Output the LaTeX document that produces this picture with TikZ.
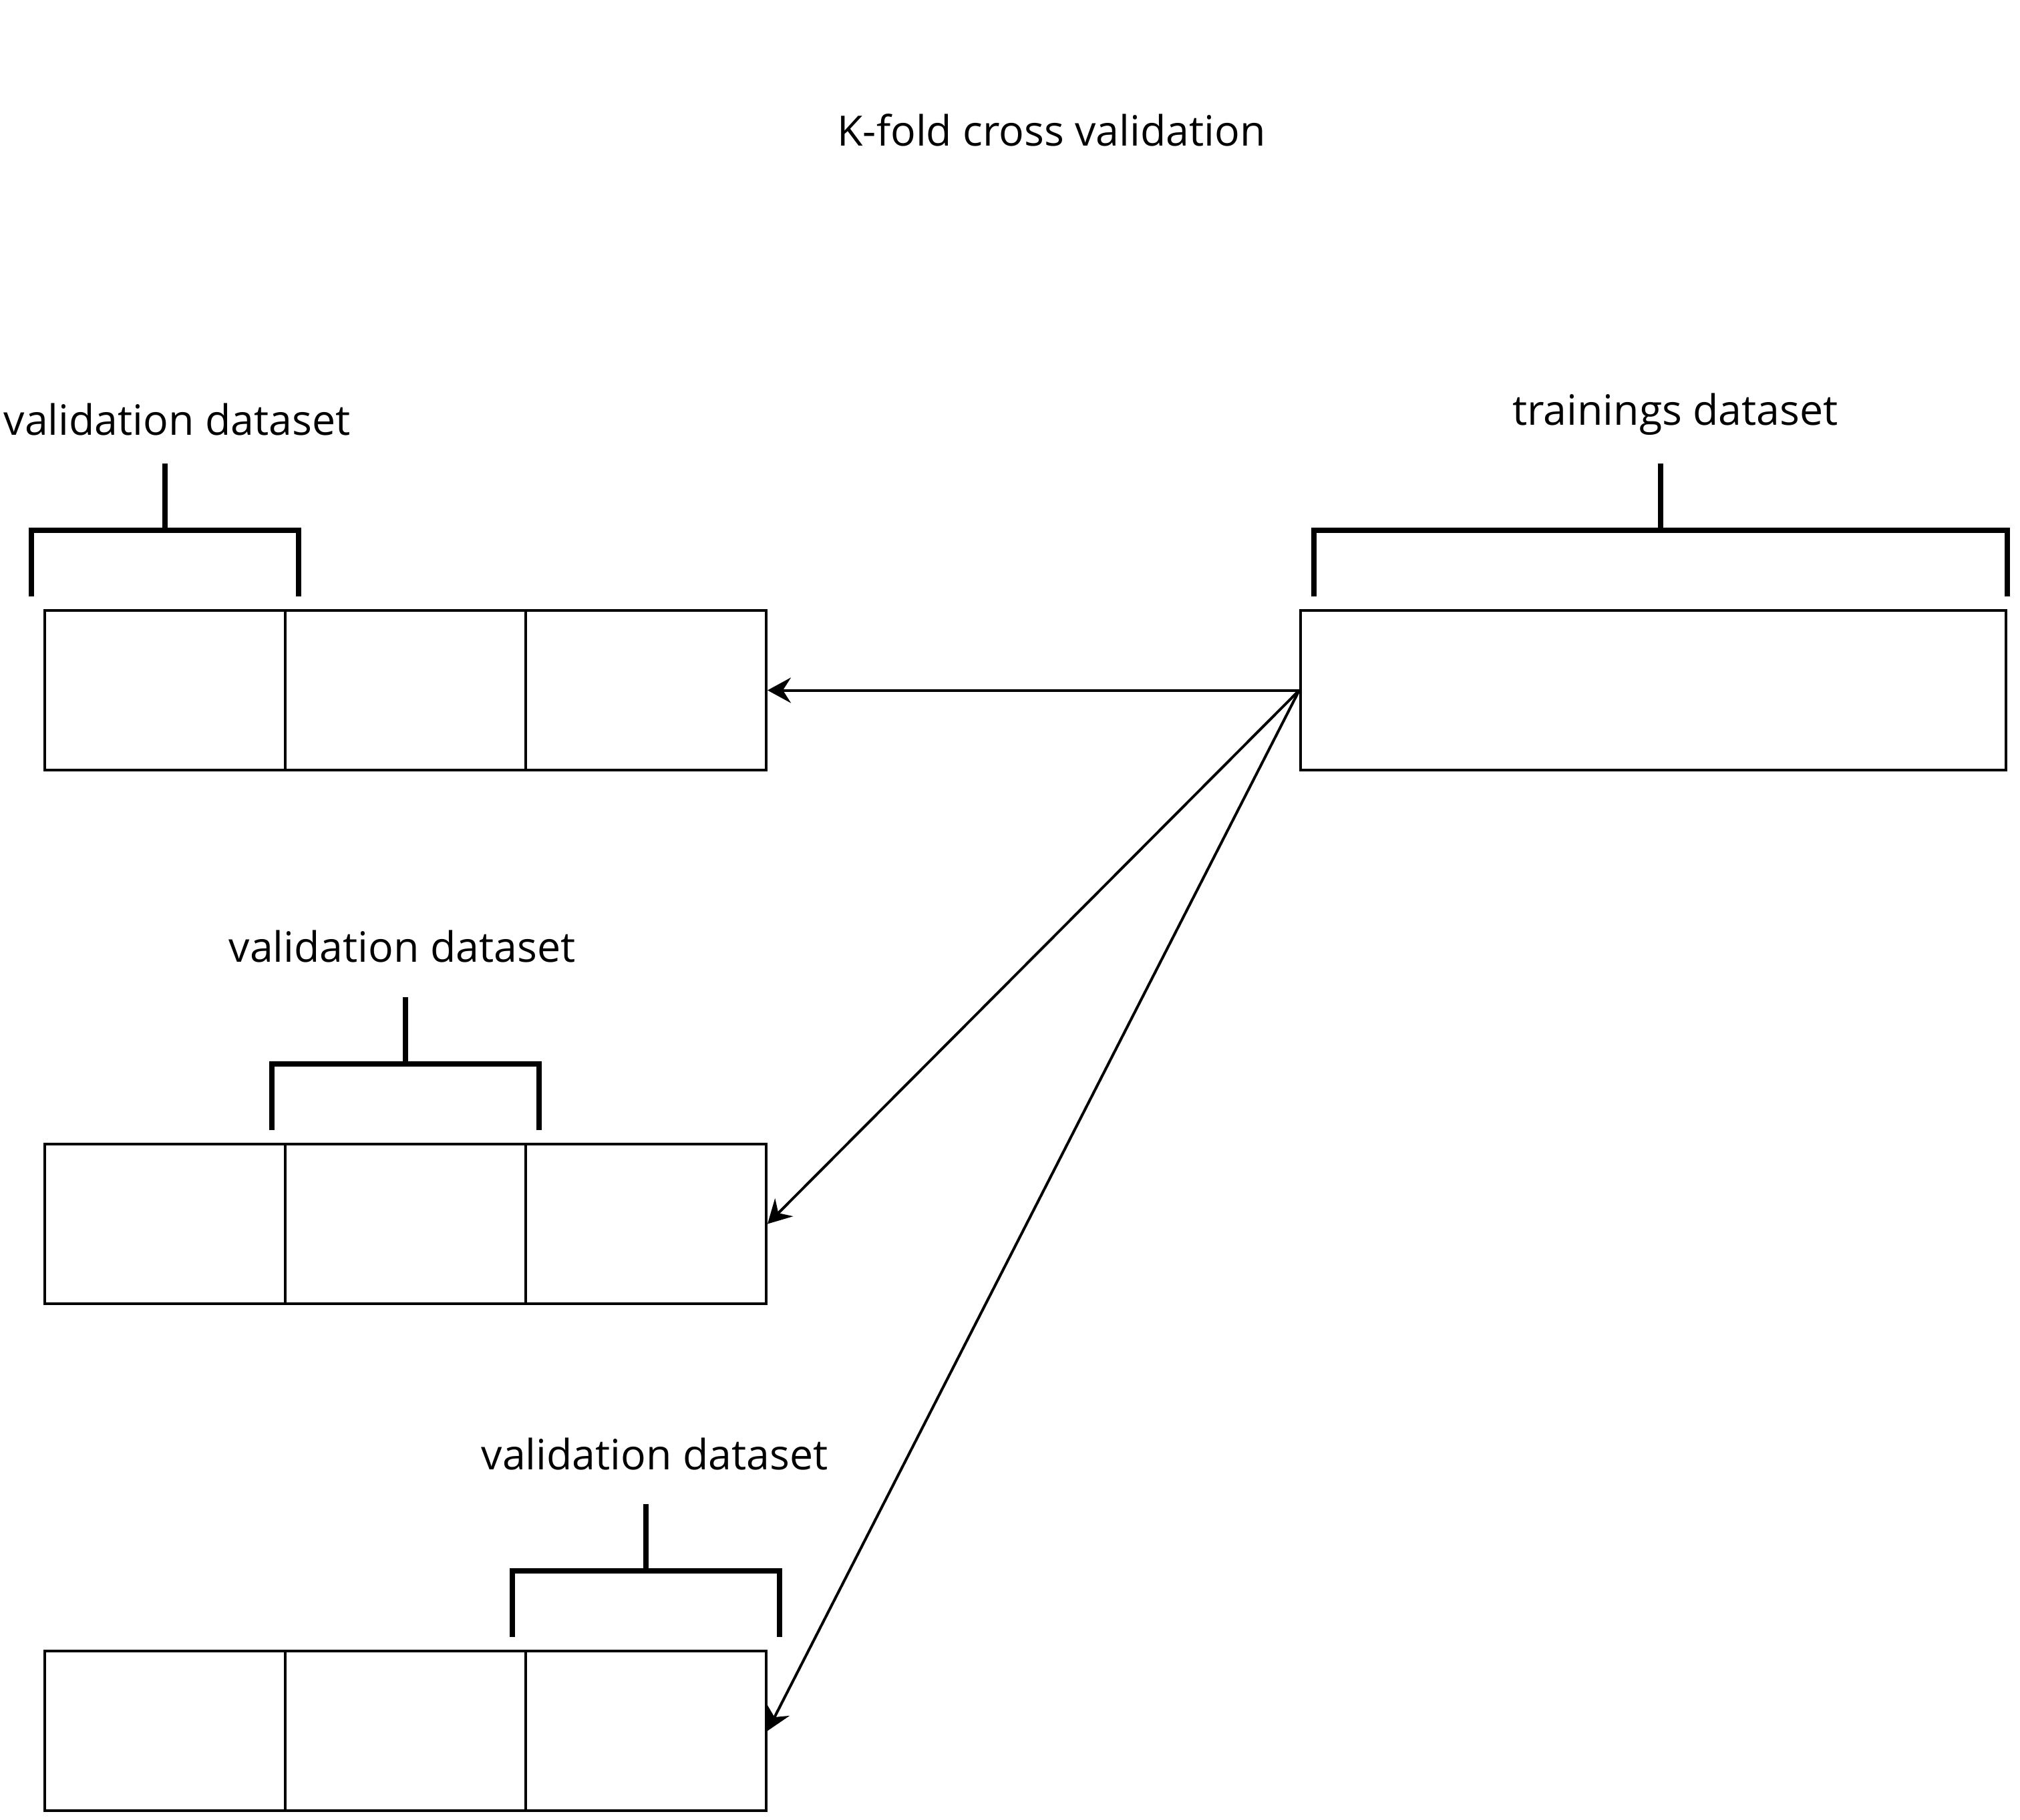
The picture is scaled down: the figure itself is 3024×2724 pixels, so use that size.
\documentclass[tikz,border=0pt]{standalone}
\usepackage{fontspec}
\setmainfont{Open Sans}
\usetikzlibrary{arrows.meta}
\begin{document}
\begin{tikzpicture}[x=0.25pt,y=-0.25pt,
  cell/.style={draw, line width=1pt, minimum width=90pt, minimum height=59.75pt, inner sep=0pt},
  bigcell/.style={draw, line width=1pt, minimum width=264pt, minimum height=59.75pt, inner sep=0pt},
  brace/.style={line width=2pt},
  lbl/.style={font=\fontsize{15.65}{18}\selectfont, inner sep=0pt, anchor=base},
  conn/.style={line width=1pt, -{Stealth[length=8.75pt,width=9.5pt,inset=3pt]}}]
\useasboundingbox (0,0) rectangle (3024,2724);

% title
\node[lbl] (title) at (1574,218) {K-fold cross validation};

% row 1
\node[cell] (r1a) at (247,1033.5) {};
\node[cell] (r1b) at (607,1033.5) {};
\node[cell] (r1c) at (967,1033.5) {};
% row 2
\node[cell] (r2a) at (247,1832.5) {};
\node[cell] (r2b) at (607,1832.5) {};
\node[cell] (r2c) at (967,1832.5) {};
% row 3
\node[cell] (r3a) at (247,2591.5) {};
\node[cell] (r3b) at (607,2591.5) {};
\node[cell] (r3c) at (967,2591.5) {};
% training set
\node[bigcell] (train) at (2475,1033.5) {};

% labels
\node[lbl] (v1) at (265,651) {validation dataset};
\node[lbl] (v2) at (602,1440) {validation dataset};
\node[lbl] (v3) at (980,2200) {validation dataset};
\node[lbl] (tl) at (2508,636) {trainings dataset};

% brackets
\draw[brace] (47,893) -- (47,794) -- (447,794) -- (447,893);
\draw[brace] (247,794) -- (247,694);
\draw[brace] (407,1692) -- (407,1593) -- (807,1593) -- (807,1692);
\draw[brace] (607,1593) -- (607,1493);
\draw[brace] (767,2451) -- (767,2352) -- (1167,2352) -- (1167,2451);
\draw[brace] (967,2352) -- (967,2252);
\draw[brace] (1967,893) -- (1967,794) -- (3005,794) -- (3005,893);
\draw[brace] (2486,794) -- (2486,694);

% connectors
\draw[conn] (train.west) -- (r1c.east);
\draw[conn] (train.west) -- (r2c.east);
\draw[conn] (train.west) -- (r3c.east);
\end{tikzpicture}
\end{document}
